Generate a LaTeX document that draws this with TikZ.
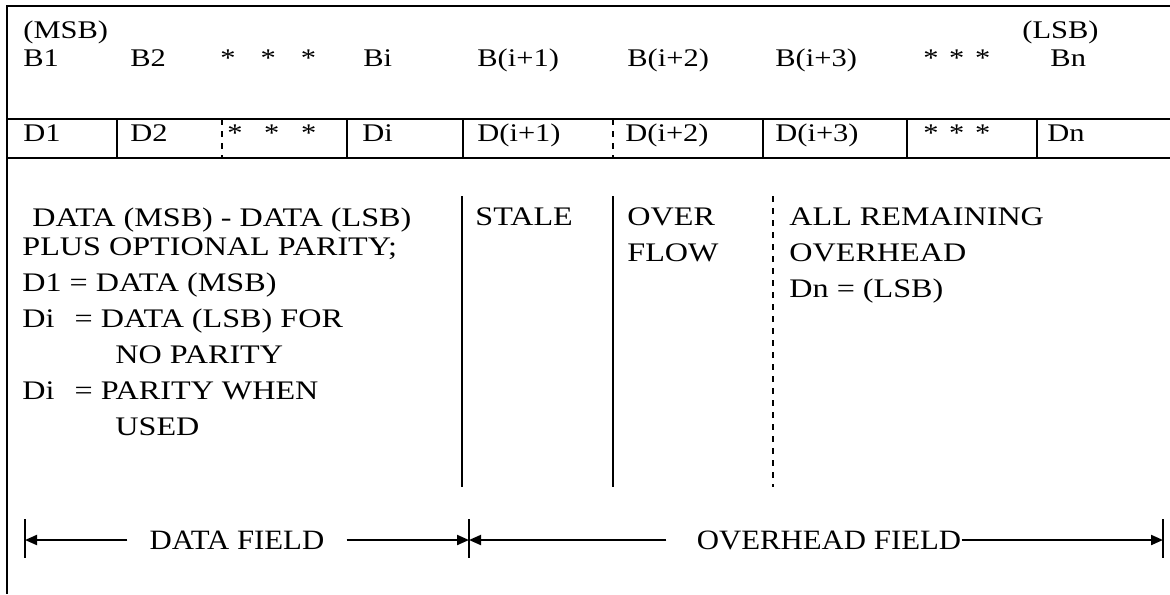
\documentclass[tikz,border=0pt]{standalone}
\usepackage{fontspec}
\setmainfont{Liberation Serif}[FakeStretch=1.2]
\newfontfamily\fieldfont{Liberation Serif}[FakeStretch=1.1]
\usetikzlibrary{arrows.meta}

\tikzset{
  frame/.style={line width=1.3pt},
  divider/.style={line width=0.75pt},
  cell/.style={anchor=base west,inner sep=0pt,font=\fontsize{12.7}{18}\selectfont},
  note/.style={anchor=north west,inner sep=0pt,align=left,font=\fontsize{13.4}{18}\selectfont},
  field/.style={font=\fieldfont\fontsize{14}{16}\selectfont,inner ysep=0pt},
  fieldarrow/.style={line width=1pt,-{Triangle[length=6pt,width=5pt]}},
}

\newcommand{\stars}[1]{*\hspace{#1}*\hspace{#1}*}

\begin{document}
\begin{tikzpicture}[x=0.5pt,y=-0.5pt]
  \useasboundingbox (0,0) rectangle (1170,594);
  % frame and word rows
  \draw[frame] (1170,6) -- (7,6) -- (7,594);
  \draw[frame] (7,119) -- (1170,119);
  \draw[frame] (7,158) -- (1170,158);
  \foreach \x in {117,347,463,763,907,1037}
    \draw[divider] (\x,119) -- (\x,158);
  \foreach \x in {222,613}
    \draw[divider,dashed] (\x,119) -- (\x,158);

  % bit row
  \node[cell] (msb) at (23,38) {(MSB)};
  \node[cell] (lsb) at (1022,39) {(LSB)};
  \foreach \x/\t/\n in {23/B1/b1,130/B2/b2,220/\stars{12.5pt}/bdotsa,363/Bi/bi,
      477/B(i+1)/bia,627/B(i+2)/bib,775/B(i+3)/bic,923/\stars{5.3pt}/bdotsb,1050/Bn/bn}
    \node[cell] (\n) at (\x,66) {\t};

  % data word row
  \foreach \x/\t/\n in {23/D1/d1,130/D2/d2,227/\stars{10.8pt}/ddotsa,362/Di/di,
      477/D(i+1)/dia,625/D(i+2)/dib,775/D(i+3)/dic,923/\stars{5.3pt}/ddotsb,1047/Dn/dn}
    \node[cell] (\n) at (\x,141) {\t};

  % field descriptions
  \foreach \x in {462,613}
    \draw[divider] (\x,196) -- (\x,487);
  \draw[divider,dashed] (773,196) -- (773,487);
  \node[note] (datanote) at (22,207) {\hspace*{5pt}DATA (MSB) - DATA (LSB)\\[-3.5pt]
    PLUS OPTIONAL PARITY;\\
    D1 = DATA (MSB)\\
    Di\hspace{6pt} = DATA (LSB) FOR\\
    \hspace*{46.5pt}NO PARITY\\
    Di\hspace{6pt} = PARITY WHEN\\
    \hspace*{46.5pt}USED};
  \node[note] (stale) at (475,207) {STALE};
  \node[note] (overflow) at (627,207) {OVER\\FLOW};
  \node[note] (remaining) at (789,207) {ALL REMAINING\\OVERHEAD\\Dn = (LSB)};

  % field arrows
  \coordinate (ltick) at (25,540);
  \coordinate (mtick) at (469,540);
  \coordinate (rtick) at (1163,540);
  \foreach \c in {ltick,mtick,rtick}
    \draw[divider] (\c) ++(0,-21) -- ++(0,39);
  \node[field,inner xsep=11pt] (datafield) at (237,540) {DATA FIELD};
  \node[field,inner xsep=0pt] (ohfield) at (829,540) {OVERHEAD FIELD};
  \draw[fieldarrow] (datafield.west) -- (ltick);
  \draw[fieldarrow] (datafield.east) -- (mtick);
  \draw[fieldarrow,shorten <=15pt] (ohfield.west) -- (mtick);
  \draw[fieldarrow] (ohfield.east) -- (rtick);
\end{tikzpicture}
\end{document}
